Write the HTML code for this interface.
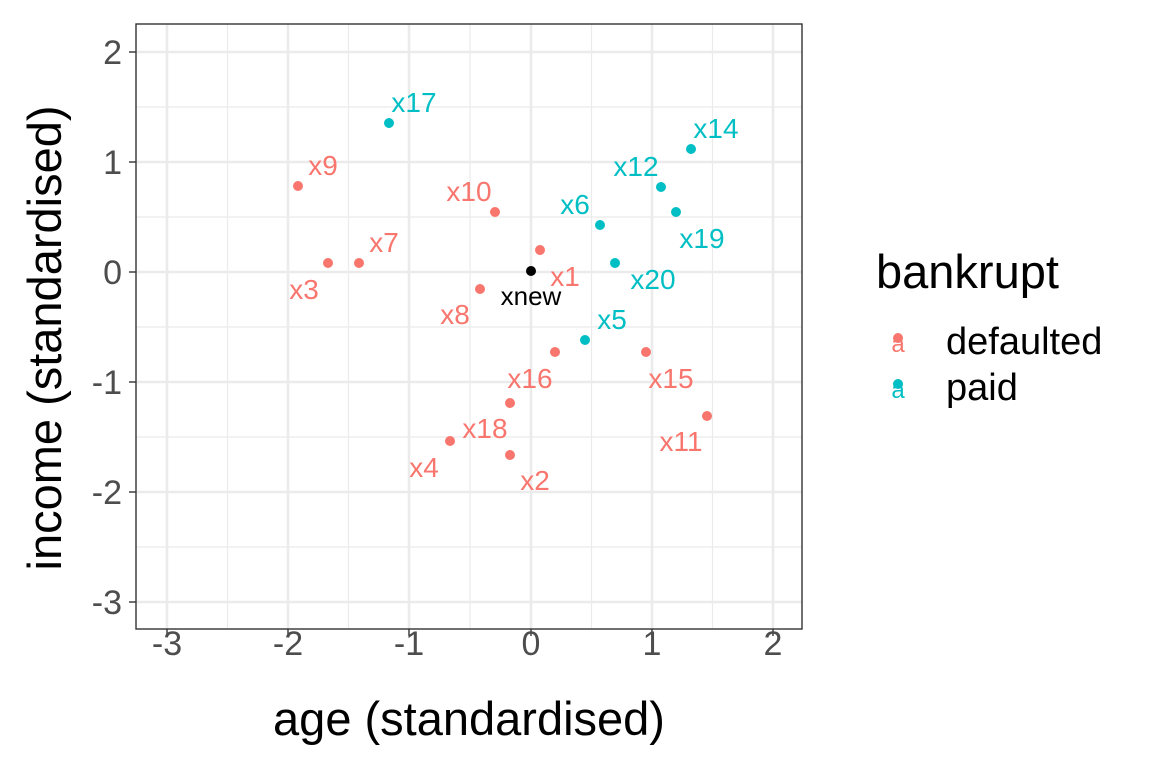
<!DOCTYPE html>
<html><head><style>body{margin:0;background:#fff}svg{display:block;font-family:"Liberation Sans",Arial,sans-serif}</style></head>
<body>
<svg width="1152" height="768" viewBox="0 0 1152 768">
<rect width="1152" height="768" fill="#fff"/>
<g stroke="#ebebeb" stroke-width="1.2">
<line x1="227.5" y1="24" x2="227.5" y2="629"/><line x1="348.5" y1="24" x2="348.5" y2="629"/><line x1="470" y1="24" x2="470" y2="629"/><line x1="591.5" y1="24" x2="591.5" y2="629"/><line x1="712.5" y1="24" x2="712.5" y2="629"/>
<line x1="136" y1="107" x2="802" y2="107"/><line x1="136" y1="217" x2="802" y2="217"/><line x1="136" y1="327" x2="802" y2="327"/><line x1="136" y1="437" x2="802" y2="437"/><line x1="136" y1="547" x2="802" y2="547"/>
</g>
<g stroke="#ebebeb" stroke-width="2.6">
<line x1="167" y1="24" x2="167" y2="629"/><line x1="288" y1="24" x2="288" y2="629"/><line x1="409" y1="24" x2="409" y2="629"/><line x1="531" y1="24" x2="531" y2="629"/><line x1="652" y1="24" x2="652" y2="629"/><line x1="773" y1="24" x2="773" y2="629"/>
<line x1="136" y1="52" x2="802" y2="52"/><line x1="136" y1="162" x2="802" y2="162"/><line x1="136" y1="272" x2="802" y2="272"/><line x1="136" y1="382" x2="802" y2="382"/><line x1="136" y1="492" x2="802" y2="492"/><line x1="136" y1="602" x2="802" y2="602"/>
</g>
<rect x="136" y="24" width="666" height="605" fill="none" stroke="#333" stroke-width="1.4"/>
<g stroke="#333" stroke-width="1.4">
<line x1="167" y1="629" x2="167" y2="636"/><line x1="288" y1="629" x2="288" y2="636"/><line x1="409" y1="629" x2="409" y2="636"/><line x1="531" y1="629" x2="531" y2="636"/><line x1="652" y1="629" x2="652" y2="636"/><line x1="773" y1="629" x2="773" y2="636"/>
<line x1="129" y1="52" x2="136" y2="52"/><line x1="129" y1="162" x2="136" y2="162"/><line x1="129" y1="272" x2="136" y2="272"/><line x1="129" y1="382" x2="136" y2="382"/><line x1="129" y1="492" x2="136" y2="492"/><line x1="129" y1="602" x2="136" y2="602"/>
</g>
<g font-size="34" fill="#4d4d4d" text-anchor="middle">
<text x="167" y="655">-3</text><text x="288" y="655">-2</text><text x="409" y="655">-1</text><text x="531" y="655">0</text><text x="652" y="655">1</text><text x="773" y="655">2</text>
</g>
<g font-size="34" fill="#4d4d4d" text-anchor="end">
<text x="122" y="64">2</text><text x="122" y="174">1</text><text x="122" y="284">0</text><text x="122" y="394">-1</text><text x="122" y="504">-2</text><text x="122" y="614">-3</text>
</g>
<text x="469" y="735" font-size="47" text-anchor="middle">age (standardised)</text>
<text transform="translate(61,338) rotate(-90)" font-size="47" text-anchor="middle">income (standardised)</text>
<g fill="#F8766D">
<circle cx="298" cy="186" r="5"/><circle cx="495" cy="212" r="5"/><circle cx="359" cy="263" r="5"/><circle cx="328" cy="263" r="5"/><circle cx="480" cy="289" r="5"/><circle cx="540" cy="250" r="5"/><circle cx="646" cy="352" r="5"/><circle cx="555" cy="352" r="5"/><circle cx="707" cy="416" r="5"/><circle cx="510" cy="403" r="5"/><circle cx="450" cy="441" r="5"/><circle cx="510" cy="455" r="5"/>
</g>
<g fill="#00BFC4">
<circle cx="389" cy="123" r="5"/><circle cx="600" cy="225" r="5"/><circle cx="661" cy="187" r="5"/><circle cx="691" cy="149" r="5"/><circle cx="676" cy="212" r="5"/><circle cx="615" cy="263" r="5"/><circle cx="585" cy="340" r="5"/>
</g>
<circle cx="531" cy="271" r="5" fill="#000"/>
<g font-size="28" text-anchor="middle" fill="#F8766D">
<text x="323" y="175">x9</text><text x="469" y="201">x10</text><text x="384" y="252">x7</text><text x="304" y="299">x3</text><text x="455" y="324">x8</text><text x="565" y="286">x1</text><text x="671" y="388">x15</text><text x="530" y="388">x16</text><text x="681" y="451">x11</text><text x="485" y="438">x18</text><text x="424" y="477">x4</text><text x="535" y="490">x2</text>
</g>
<g font-size="28" text-anchor="middle" fill="#00BFC4">
<text x="414" y="112">x17</text><text x="575" y="214">x6</text><text x="636" y="176">x12</text><text x="716" y="138">x14</text><text x="702" y="248">x19</text><text x="653" y="289">x20</text><text x="612" y="329">x5</text>
</g>
<text x="531" y="305" font-size="26" text-anchor="middle" fill="#000">xnew</text>
<text x="876" y="288" font-size="47">bankrupt</text>
<circle cx="898" cy="338" r="5" fill="#F8766D"/><text x="898" y="352" font-size="24" fill="#F8766D" text-anchor="middle">a</text>
<circle cx="898" cy="384" r="5" fill="#00BFC4"/><text x="898" y="398" font-size="24" fill="#00BFC4" text-anchor="middle">a</text>
<text x="946" y="354" font-size="38">defaulted</text>
<text x="946" y="400" font-size="38">paid</text>
</svg>
</body></html>
